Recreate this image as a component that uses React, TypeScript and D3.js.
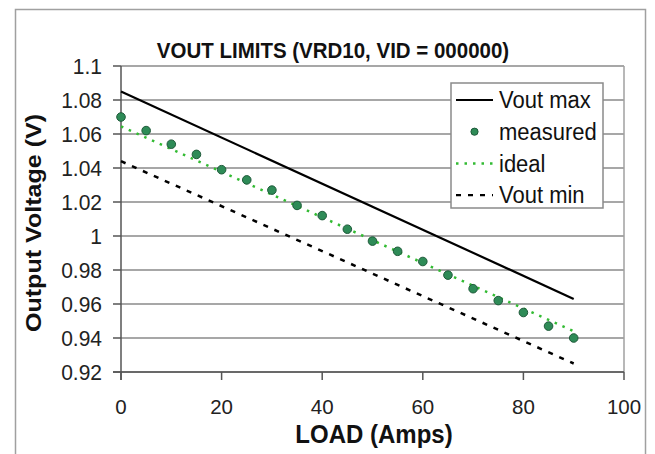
import React from "react";
import * as d3 from "d3";

const loads = [0, 5, 10, 15, 20, 25, 30, 35, 40, 45, 50, 55, 60, 65, 70, 75, 80, 85, 90];
const measured = [1.07, 1.062, 1.054, 1.048, 1.039, 1.033, 1.027, 1.018, 1.012, 1.004, 0.997, 0.991, 0.985, 0.977, 0.969, 0.962, 0.955, 0.947, 0.94];
const lineLoads = [0, 90];
const voutMax = [1.085, 0.963];
const ideal = [1.0645, 0.944];
const voutMin = [1.044, 0.925];
const xTicks = [0, 20, 40, 60, 80, 100];
const yTicks = [0.92, 0.94, 0.96, 0.98, 1, 1.02, 1.04, 1.06, 1.08, 1.1];
const legendLabels = ["Vout max", "measured", "ideal", "Vout min"];

const W = 655;
const H = 454;
const FONT = "'Liberation Sans', Arial, sans-serif";

export default function App() {
  const x = d3.scaleLinear().domain([0, 100]).range([121, 624]);
  const y = d3.scaleLinear().domain([0.92, 1.1]).range([372, 66]);
  const line = d3
    .line<[number, number]>()
    .x((d) => x(d[0]))
    .y((d) => y(d[1]));
  const pts = (vals: number[]) => lineLoads.map((l, i) => [l, vals[i]] as [number, number]);

  const legX = 451;
  const legY = 83;
  const legW = 152;
  const legH = 125;
  const rowY = (i: number) => legY + 17 + i * 31.7;

  return (
    <svg
      width={W}
      height={H}
      style={{ position: "absolute", left: 0, top: 0, background: "#fff" }}
      fontFamily={FONT}
    >
      <rect x={0} y={0} width={W} height={H} fill="#fff" />
      <rect x={15.5} y={9.5} width={630} height={460} fill="none" stroke="#a0a0a0" strokeWidth={1.5} />
      {/* gridlines */}
      {yTicks.map((t) => (
        <line key={t} x1={x(0)} x2={x(100)} y1={y(t)} y2={y(t)} stroke="#8a8a8a" strokeWidth={1.5} />
      ))}
      {/* plot frame right */}
      <line x1={x(100)} x2={x(100)} y1={y(1.1)} y2={y(0.92)} stroke="#a0a0a0" strokeWidth={1.5} />
      {/* axes */}
      <line x1={x(0)} x2={x(0)} y1={y(1.1)} y2={y(0.92) + 8} stroke="#555" strokeWidth={1.5} />
      <line x1={x(0) - 8} x2={x(100)} y1={y(0.92)} y2={y(0.92)} stroke="#555" strokeWidth={1.5} />
      {yTicks.map((t) => (
        <line key={"yt" + t} x1={x(0) - 8} x2={x(0)} y1={y(t)} y2={y(t)} stroke="#555" strokeWidth={1.5} />
      ))}
      {xTicks.map((t) => (
        <line key={"xt" + t} x1={x(t)} x2={x(t)} y1={y(0.92)} y2={y(0.92) + 8} stroke="#555" strokeWidth={1.5} />
      ))}
      {yTicks.map((t) => (
        <text
          key={"yl" + t}
          transform={`translate(102,${y(t) + 7.5}) scale(1,1.06)`}
          fontSize={21}
          textAnchor="end"
          fill="#222"
        >
          {String(+t.toFixed(2))}
        </text>
      ))}
      {xTicks.map((t) => (
        <text
          key={"xl" + t}
          transform={`translate(${x(t)},413.5) scale(1,1.03)`}
          fontSize={20.5}
          textAnchor="middle"
          fill="#222"
        >
          {t}
        </text>
      ))}
      {/* series */}
      <path d={line(pts(voutMax)) || ""} fill="none" stroke="#000" strokeWidth={2.2} />
      <path d={line(pts(voutMin)) || ""} fill="none" stroke="#000" strokeWidth={2.5} strokeDasharray="5,7" />
      <path d={line(pts(ideal)) || ""} fill="none" stroke="#33bb33" strokeWidth={2.5} strokeDasharray="2.5,6" />
      {loads.map((l, i) => (
        <circle key={"m" + l} cx={x(l)} cy={y(measured[i])} r={4.3} fill="#2e8b57" stroke="#1f5a3a" strokeWidth={1} />
      ))}
      {/* title */}
      <text
        transform="translate(333,58) scale(1,1.1)"
        fontSize={20.5}
        fontWeight="bold"
        textAnchor="middle"
        fill="#111"
      >
        VOUT LIMITS (VRD10, VID = 000000)
      </text>
      <text
        transform="translate(374,442.5) scale(1,1.08)"
        fontSize={24}
        fontWeight="bold"
        textAnchor="middle"
        fill="#111"
      >
        LOAD (Amps)
      </text>
      <text
        transform="translate(40.5,223) rotate(-90) scale(1.14,1)"
        fontSize={22}
        fontWeight="bold"
        textAnchor="middle"
        fill="#111"
      >
        Output Voltage (V)
      </text>
      {/* legend */}
      <rect x={legX} y={legY} width={legW} height={legH} fill="#fff" stroke="#8a8a8a" strokeWidth={1.5} />
      <line x1={456} x2={493} y1={rowY(0)} y2={rowY(0)} stroke="#000" strokeWidth={2.2} />
      <circle cx={474.5} cy={rowY(1)} r={3.6} fill="#2e8b57" stroke="#1f5a3a" strokeWidth={1} />
      <line x1={456} x2={493} y1={rowY(2)} y2={rowY(2)} stroke="#33bb33" strokeWidth={2.5} strokeDasharray="2.5,6" />
      <line x1={456} x2={493} y1={rowY(3)} y2={rowY(3)} stroke="#000" strokeWidth={2.2} strokeDasharray="5,7" />
      {legendLabels.map((lab, i) => (
        <text
          key={lab}
          transform={`translate(499,${rowY(i) + 8.3}) scale(1,1.06)`}
          fontSize={22}
          fill="#111"
        >
          {lab}
        </text>
      ))}
    </svg>
  );
}
